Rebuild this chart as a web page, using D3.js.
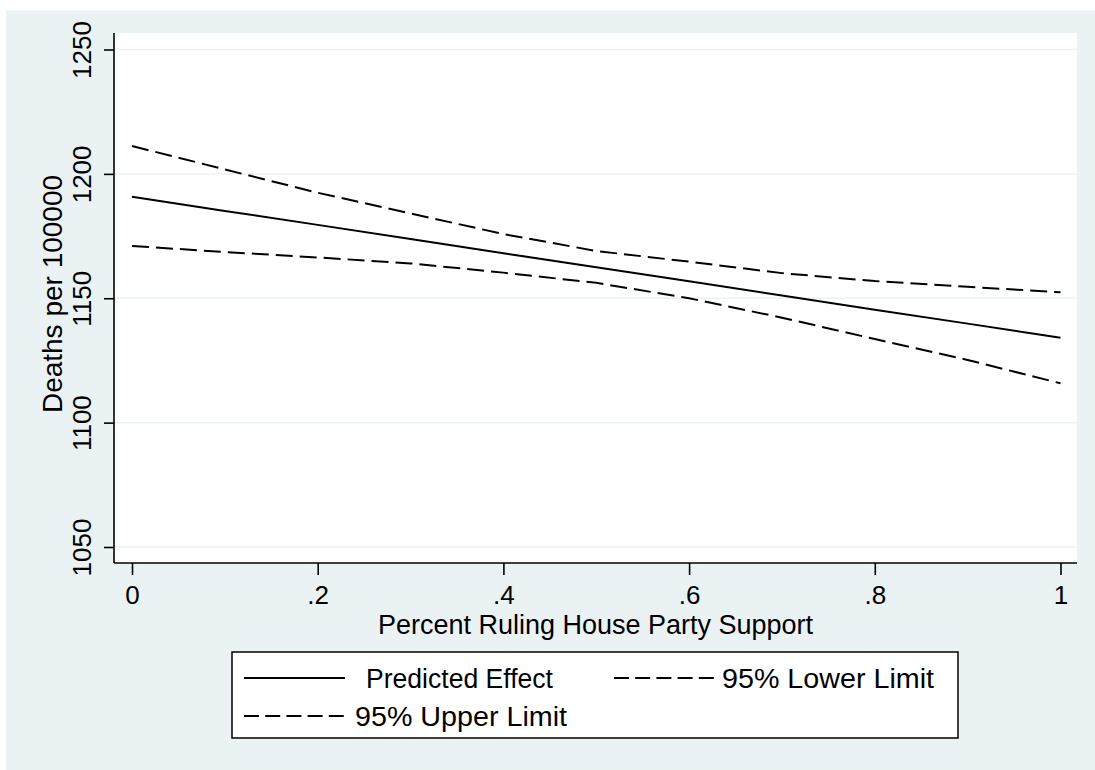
<!DOCTYPE html>
<html><head><meta charset="utf-8">
<script src="https://cdn.jsdelivr.net/npm/d3@7"></script>
<style>
body{margin:0;background:#fff}
svg{display:block}
text{font-family:"Liberation Sans",Arial,Helvetica,sans-serif;fill:#000}
</style>
</head><body>
<svg id="c" width="1095" height="770"></svg>
<script>
// ---- data ----
const xValues   = [0, 0.1, 0.2, 0.3, 0.4, 0.5, 0.6, 0.7, 0.8, 0.9, 1];
const predicted = [1190.8, 1185.1, 1179.5, 1173.8, 1168.1, 1162.5, 1156.8, 1151.1, 1145.4, 1139.8, 1134.1];
const lowerLim  = [1171.0, 1168.6, 1166.4, 1164.0, 1160.3, 1156.2, 1150.0, 1142.2, 1133.6, 1125.2, 1115.8];
const upperLim  = [1211.2, 1201.8, 1192.4, 1184.1, 1175.8, 1169.0, 1164.7, 1160.1, 1156.9, 1154.6, 1152.4];
const xTicks      = [0, 0.2, 0.4, 0.6, 0.8, 1];
const xTickLabels = ["0", ".2", ".4", ".6", ".8", "1"];
const yTicks      = [1050, 1100, 1150, 1200, 1250];
const yTickLabels = ["1050", "1100", "1150", "1200", "1250"];
const seriesNames = ["Predicted Effect", "95% Lower Limit", "95% Upper Limit"];
const xTitle = "Percent Ruling House Party Support";
const yTitle = "Deaths per 100000";

// ---- layout ----
const svg = d3.select("#c");
const bg = "#eaf2f3";
const plotL = 114, plotR = 1077, plotT = 33, plotB = 563;
const x = d3.scaleLinear().domain([0, 1]).range([132, 1060.5]);
const y = d3.scaleLinear().domain([1050, 1250]).range([547, 49.5]);

svg.append("rect").attr("x", 6).attr("y", 10.5).attr("width", 1089).attr("height", 760).attr("fill", bg);
svg.append("rect").attr("x", plotL).attr("y", plotT).attr("width", plotR - plotL).attr("height", plotB - plotT).attr("fill", "#fff");

// gridlines
svg.append("g").selectAll("line").data(yTicks).join("line")
  .attr("x1", plotL).attr("x2", plotR)
  .attr("y1", d => y(d)).attr("y2", d => y(d))
  .attr("stroke", bg).attr("stroke-width", 1.5);

// y axis
const gy = svg.append("g").attr("transform", `translate(${plotL},0)`)
  .call(d3.axisLeft(y).tickValues(yTicks).tickSize(10).tickSizeOuter(0).tickFormat((d, i) => yTickLabels[i]));
gy.select(".domain").attr("d", `M0,${plotT}V${plotB}`).attr("stroke", "#000").attr("stroke-width", 1.6);
gy.selectAll(".tick line").attr("stroke", "#000").attr("stroke-width", 1.6);
gy.selectAll(".tick text")
  .attr("x", null).attr("dy", null)
  .attr("transform", "translate(-23.5,0) rotate(-90)")
  .attr("text-anchor", "middle")
  .attr("font-size", 26)
  .style("font-family", '"Liberation Sans",Arial,sans-serif');

// x axis
const gx = svg.append("g").attr("transform", `translate(0,${plotB})`)
  .call(d3.axisBottom(x).tickValues(xTicks).tickSize(12).tickSizeOuter(0).tickFormat((d, i) => xTickLabels[i]));
gx.select(".domain").attr("d", `M${plotL},0H${plotR}`).attr("stroke", "#000").attr("stroke-width", 1.6);
gx.selectAll(".tick line").attr("stroke", "#000").attr("stroke-width", 1.6);
gx.selectAll(".tick text")
  .attr("y", 40.5).attr("dy", null)
  .attr("font-size", 26)
  .style("font-family", '"Liberation Sans",Arial,sans-serif');
svg.selectAll(".tick text").attr("fill", "#000");

// axis titles
svg.append("text").attr("x", (plotL + plotR) / 2).attr("y", 633.5)
  .attr("text-anchor", "middle").attr("font-size", 27).text(xTitle);
svg.append("text").attr("transform", "translate(61.5,294) rotate(-90)")
  .attr("text-anchor", "middle").attr("font-size", 28).text(yTitle);

// lines
const dash = "17,7";
const line = vals => d3.line().x((d, i) => x(xValues[i])).y(d => y(d))(vals);
svg.append("path").attr("d", line(predicted)).attr("fill", "none").attr("stroke", "#000").attr("stroke-width", 2);
svg.append("path").attr("d", line(lowerLim)).attr("fill", "none").attr("stroke", "#000").attr("stroke-width", 2).attr("stroke-dasharray", dash);
svg.append("path").attr("d", line(upperLim)).attr("fill", "none").attr("stroke", "#000").attr("stroke-width", 2).attr("stroke-dasharray", dash);

// legend
const lg = svg.append("g");
lg.append("rect").attr("x", 232).attr("y", 652).attr("width", 726).attr("height", 86)
  .attr("fill", "#fff").attr("stroke", "#000").attr("stroke-width", 1.5);
const legendItems = [
  {name: seriesNames[0], dash: null, lx: 244, tx: 366, cy: 678, w: 187},
  {name: seriesNames[1], dash: "15,6.2", lx: 614, tx: 722, cy: 678, w: 212},
  {name: seriesNames[2], dash: "15,6.2", lx: 244, tx: 355, cy: 716, w: 212}
];
legendItems.forEach(it => {
  const ln = lg.append("line").attr("x1", it.lx).attr("x2", it.lx + 101)
    .attr("y1", it.cy).attr("y2", it.cy).attr("stroke", "#000").attr("stroke-width", 2);
  if (it.dash) ln.attr("stroke-dasharray", it.dash);
  lg.append("text").attr("x", it.tx).attr("y", it.cy + 10).attr("font-size", 27)
    .attr("textLength", it.w).attr("lengthAdjust", "spacingAndGlyphs").text(it.name);
});
</script>
</body></html>
